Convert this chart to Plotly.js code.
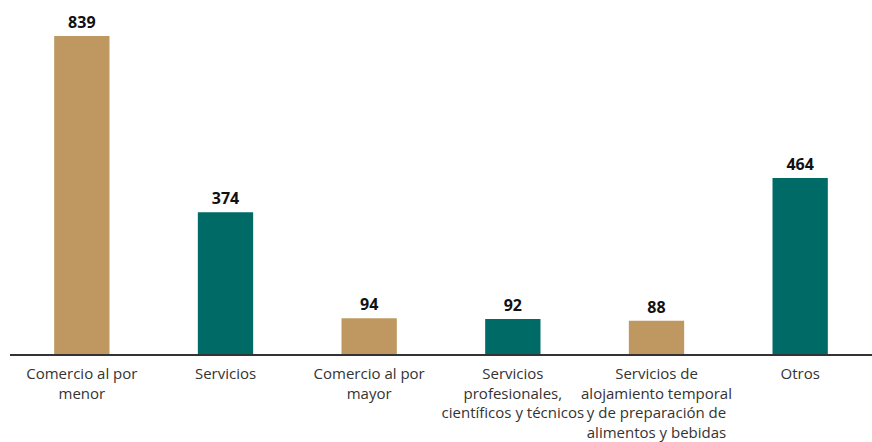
<!DOCTYPE html>
<html><head><meta charset="utf-8">
<script src="https://cdn.plot.ly/plotly-3.0.1.min.js"></script>
<style>html,body{margin:0;padding:0;background:#fff}</style>
</head><body>
<div id="chart" style="width:872px;height:442px"></div>
<script>
const categories = [
  "Comercio al por<br>menor",
  "Servicios",
  "Comercio al por<br>mayor",
  "Servicios<br>profesionales,<br>científicos y técnicos",
  "Servicios de<br>alojamiento temporal<br>y de preparación de<br>alimentos y bebidas",
  "Otros"
];
const values = [839, 374, 94, 92, 88, 464];
const barColors = ["#BE9860", "#006A66", "#BE9860", "#006A66", "#BE9860", "#006A66"];

const trace = {
  type: "bar",
  x: categories,
  y: values,
  marker: {color: barColors},
  text: values.map(String),
  textposition: "outside",
  cliponaxis: false,
  textfont: {family: "Open Sans, sans-serif", size: 16, color: "#111", weight: 700},
  hoverinfo: "none"
};

const layout = {
  width: 872, height: 442,
  margin: {l: 10, r: 0, t: 20, b: 88},
  paper_bgcolor: "#fff", plot_bgcolor: "#fff",
  showlegend: false,
  bargap: 0.615,
  xaxis: {
    type: "category",
    showline: true, linecolor: "#333", linewidth: 2,
    ticks: "", showgrid: false, zeroline: false,
    tickangle: 0,
    tickfont: {family: "Open Sans, sans-serif", size: 15, color: "#333"},
    ticklabelstandoff: 5
  },
  yaxis: {
    range: [0, 881], visible: false, showgrid: false, zeroline: false
  },
  font: {family: "Open Sans, sans-serif"}
};

Plotly.newPlot("chart", [trace], layout, {displayModeBar: false, staticPlot: true});
</script>
</body></html>
